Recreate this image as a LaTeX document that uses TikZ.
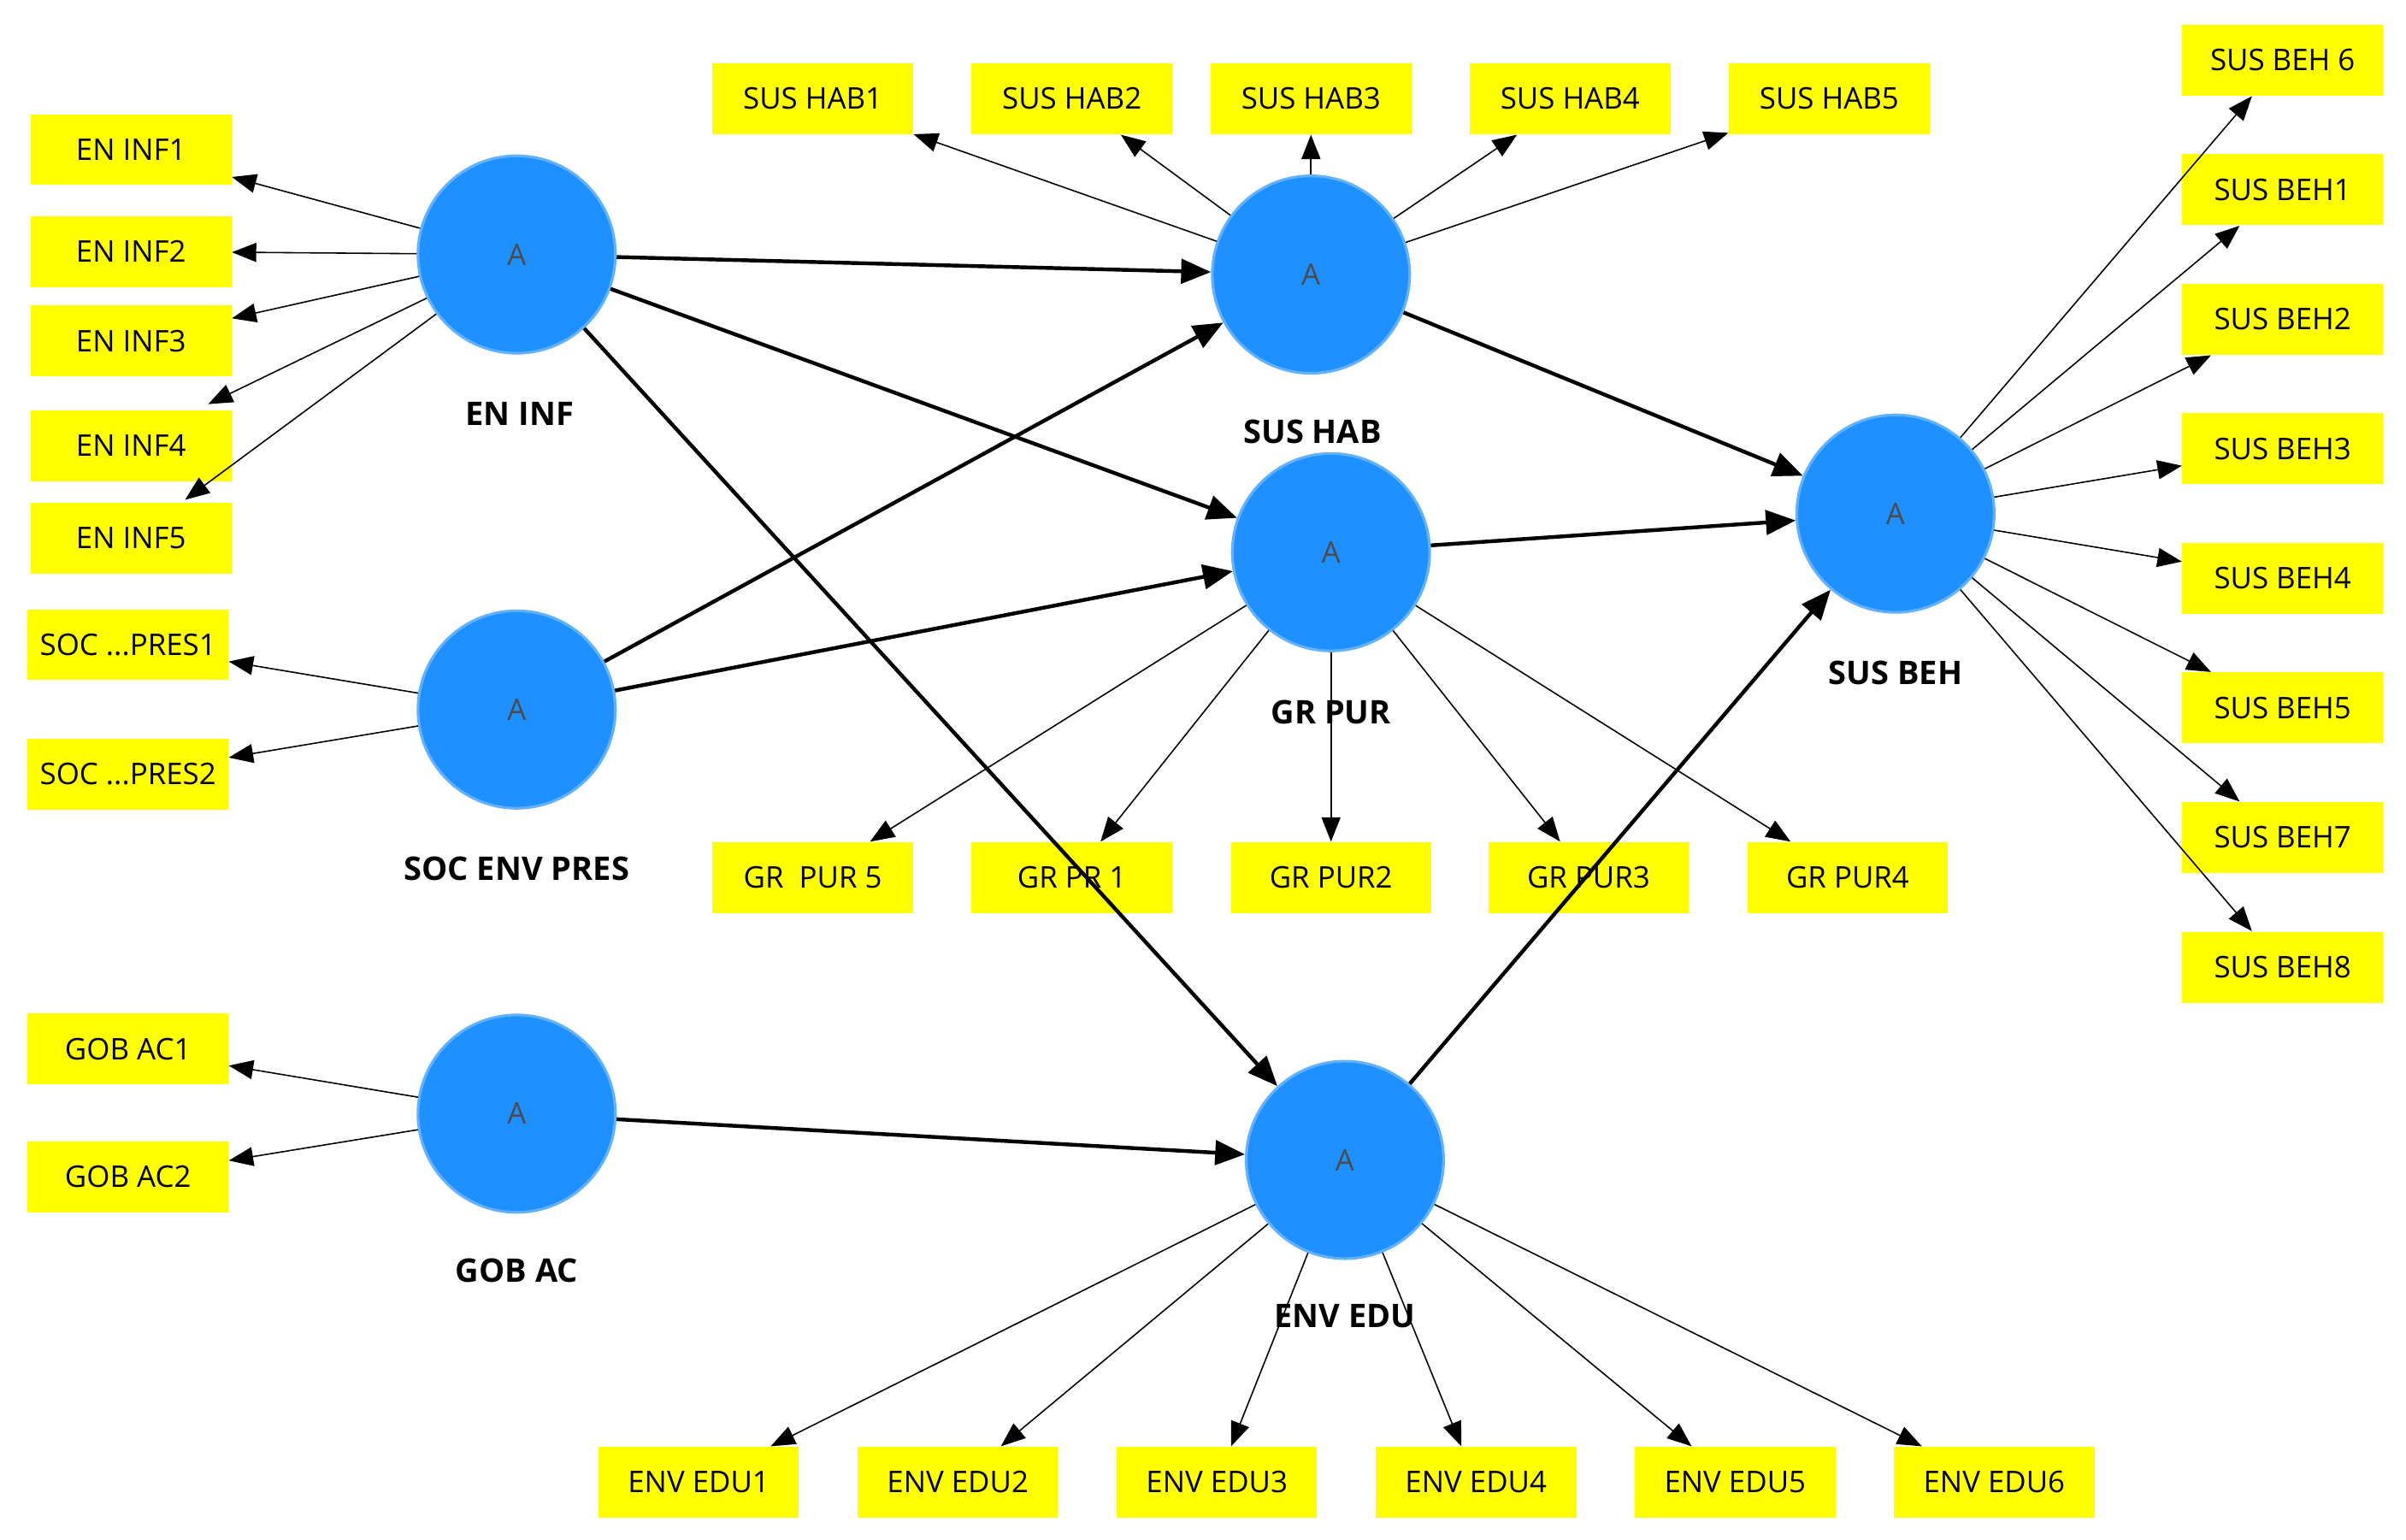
\documentclass[tikz,border=0pt]{standalone}
\usepackage{fontspec}
\setmainfont{Open Sans}
\usetikzlibrary{arrows.meta}
\definecolor{lv}{RGB}{30,144,255}
\definecolor{yb}{RGB}{255,255,0}
\begin{document}
\begin{tikzpicture}[x=0.02cm,y=-0.02cm,
  lv/.style={circle,fill=lv,draw=lv!70!white,line width=1pt,minimum size=2.56cm,inner sep=0pt,font=\fontsize{11}{12}\selectfont,text=black!70},
  ind/.style={fill=yb,minimum width=2.6cm,minimum height=0.92cm,inner sep=0pt,font=\fontsize{11}{12}\selectfont},
  lab/.style={font=\bfseries\fontsize{12}{14}\selectfont},
  thin/.style={-{Triangle[length=9pt,width=7pt]},line width=0.5pt},
  thick/.style={-{Triangle[length=11pt,width=9pt]},line width=1.4pt}]
\useasboundingbox (0,0) rectangle (1560,998);
\node[lv] (ei) at (335,165) {A};
\node[lv] (sh) at (850,178) {A};
\node[lv] (gp) at (863,358) {A};
\node[lv] (sb) at (1229,333) {A};
\node[lv] (so) at (335,460) {A};
\node[lv] (go) at (335,722) {A};
\node[lv] (ee) at (872,752) {A};
\node[lab] (lei) at (337,268) {EN INF};
\node[lab] (lsh) at (851,280) {SUS HAB};
\node[lab] (lgp) at (863,462) {GR PUR};
\node[lab] (lsb) at (1229,436) {SUS BEH};
\node[lab] (lso) at (335,563) {SOC ENV PRES};
\node[lab] (lgo) at (335,824) {GOB AC};
\node[lab] (lee) at (872,853) {ENV EDU};
% indicators
\node[ind] (ei1) at (85,97) {EN INF1};
\node[ind] (ei2) at (85,163) {EN INF2};
\node[ind] (ei3) at (85,221) {EN INF3};
\node[ind] (ei4) at (85,289) {EN INF4};
\node[ind] (ei5) at (85,349) {EN INF5};
\node[ind] (so1) at (83,418) {SOC ...PRES1};
\node[ind] (so2) at (83,502) {SOC ...PRES2};
\node[ind] (go1) at (83,680) {GOB AC1};
\node[ind] (go2) at (83,763) {GOB AC2};
\foreach \n/\x in {1/527,2/695,3/850,4/1018,5/1186}{\node[ind] (sh\n) at (\x,64) {SUS HAB\n};}
\node[ind] (sb6) at (1480,39) {SUS BEH 6};
\foreach \n/\y in {1/123,2/207,3/291,4/375,5/459,7/543,8/627}{\node[ind] (sb\n) at (1480,\y) {SUS BEH\n};}
\node[ind] (gp5) at (527,569) {GR\ \ PUR 5};
\node[ind] (gp1) at (695,569) {GR PR 1};
\node[ind] (gp2) at (863,569) {GR PUR2};
\node[ind] (gp3) at (1030,569) {GR PUR3};
\node[ind] (gp4) at (1198,569) {GR PUR4};
\foreach \n/\x in {1/453,2/621,3/789,4/957,5/1125,6/1293}{\node[ind] (ee\n) at (\x,961) {ENV EDU\n};}
% measurement arrows
\foreach \t in {ei1,ei2,ei3}{\draw[thin] (ei) -- (\t);}
\coordinate (c4) at (135,262); \coordinate (c5) at (120,324);
\draw[thin] (ei) -- (c4); \draw[thin] (ei) -- (c5);
\foreach \t in {so1,so2}{\draw[thin] (so) -- (\t);}
\foreach \t in {go1,go2}{\draw[thin] (go) -- (\t);}
\foreach \t in {1,2,3,4,5}{\draw[thin] (sh) -- (sh\t);}
\foreach \t in {6,1,2,3,4,5,7,8}{\draw[thin] (sb) -- (sb\t);}
\foreach \t in {1,2,3,4,5}{\draw[thin] (gp) -- (gp\t);}
\foreach \t in {1,2,3,4,5,6}{\draw[thin] (ee) -- (ee\t);}
% structural
\draw[thick] (ei) -- (sh);
\draw[thick] (ei) -- (gp);
\draw[thick] (ei) -- (ee);
\draw[thick] (so) -- (sh);
\draw[thick] (so) -- (gp);
\draw[thick] (go) -- (ee);
\draw[thick] (sh) -- (sb);
\draw[thick] (gp) -- (sb);
\draw[thick] (ee) -- (sb);
\end{tikzpicture}
\end{document}
